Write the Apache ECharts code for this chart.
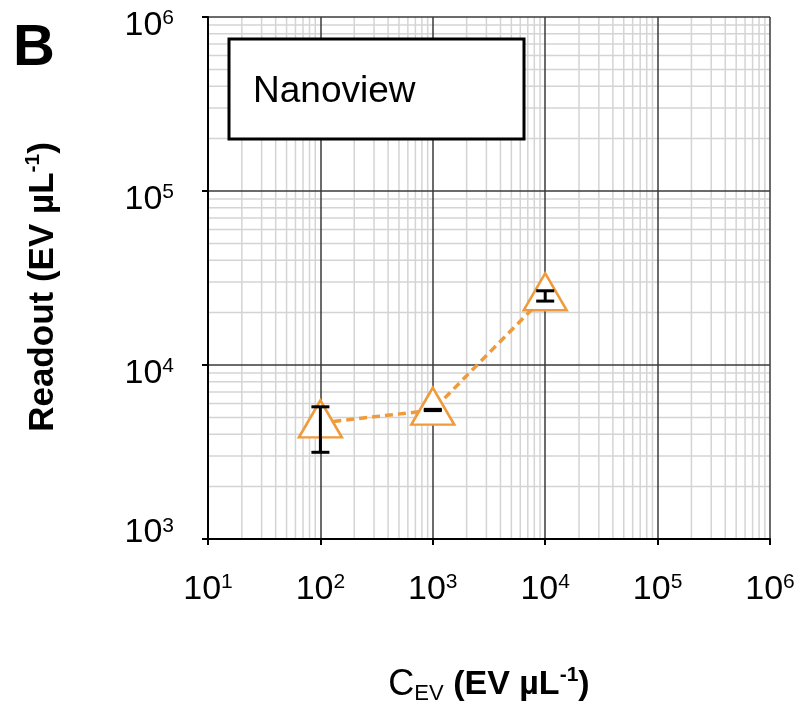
<!DOCTYPE html>
<html>
<head>
<meta charset="utf-8">
<script src="https://cdn.jsdelivr.net/npm/echarts@6/dist/echarts.min.js"></script>
<style>
  html, body { margin: 0; padding: 0; background: #fff; }
  #chart { width: 806px; height: 704px; }
</style>
</head>
<body>
<div id="chart"></div>
<script>
// concentration of EVs (x) and readout (y)
const cEV = [100, 1000, 10000]
const readout = [4650, 5500, 25000]
const errLow = [3150, 5470, 23300]
const errHigh = [5750, 5560, 26700]

const xMin = 10, xMax = 1e6
const yMin = 1e3, yMax = 1e6

const orange = '#EF9B3C'
const font = 'Liberation Sans, Arial, Helvetica, sans-serif'

// minor grid positions (2..9 within each decade)
const minorLines = []
for (let d = xMin; d < xMax; d *= 10) {
  for (let k = 2; k <= 9; k++) minorLines.push([d * k, yMin, 0])
}
for (let d = yMin; d < yMax; d *= 10) {
  for (let k = 2; k <= 9; k++) minorLines.push([xMin, d * k, 1])
}

const expOf = (v) => Math.round(Math.log10(v))
const xLabel = (v) => '{b|10}{s|' + expOf(v) + '}'
// lowest y label sits a bit higher than the others (tall empty spacer pushes it up)
const yLabel = (v) => expOf(v) === 3
  ? '{bt|10}{s|3}{sp| }'
  : '{b|10}{s|' + expOf(v) + '}'

const labelRich = {
  b: { fontFamily: font, fontSize: 34, color: '#000', lineHeight: 36 },
  bt: { fontFamily: font, fontSize: 34, color: '#000', lineHeight: 36, verticalAlign: 'top' },
  s: { fontFamily: font, fontSize: 21, color: '#000', verticalAlign: 'top', lineHeight: 21 },
  sp: { fontSize: 1, lineHeight: 64, width: 0 }
}

const chart = echarts.init(document.getElementById('chart'))

const option = {
  animation: false,
  backgroundColor: '#fff',
  grid: { left: 208, right: 36, top: 17, bottom: 165, outerBoundsMode: 'none' },
  xAxis: {
    type: 'log',
    logBase: 10,
    min: xMin,
    max: xMax,
    z: 3,
    name: '{c|C}{sub|EV}{t| (EV µL}{s|-1}{t|)}',
    nameLocation: 'middle',
    nameGap: 126,
    nameTextStyle: {
      rich: {
        c: { fontFamily: font, fontSize: 36, color: '#000', lineHeight: 40 },
        sub: { fontFamily: font, fontSize: 22, color: '#000', verticalAlign: 'bottom', lineHeight: 26 },
        t: { fontFamily: font, fontSize: 34, fontWeight: 'bold', color: '#000', lineHeight: 40 },
        s: { fontFamily: font, fontSize: 21, fontWeight: 'bold', color: '#000', verticalAlign: 'top', lineHeight: 22 }
      }
    },
    axisLine: { show: true, lineStyle: { color: '#000', width: 2 } },
    axisTick: { show: true, inside: false, length: 6, lineStyle: { color: '#000', width: 2 } },
    axisLabel: { margin: 33, formatter: xLabel, rich: labelRich },
    splitLine: { show: true, lineStyle: { color: '#3a3a3a', width: 1.5 } },
    minorTick: { show: false },
    minorSplitLine: { show: false }
  },
  yAxis: {
    type: 'log',
    logBase: 10,
    min: yMin,
    max: yMax,
    z: 3,
    name: '{t|Readout (EV µL}{s|-1}{t|)}',
    nameLocation: 'middle',
    nameRotate: 90,
    nameGap: 145,
    nameTextStyle: {
      padding: [0, 18, 0, 0],
      rich: {
        t: { fontFamily: font, fontSize: 35, fontWeight: 'bold', color: '#000', lineHeight: 40 },
        s: { fontFamily: font, fontSize: 21, fontWeight: 'bold', color: '#000', verticalAlign: 'top', lineHeight: 22 }
      }
    },
    axisLine: { show: true, lineStyle: { color: '#000', width: 2 } },
    axisTick: { show: true, inside: false, length: 6, lineStyle: { color: '#000', width: 2 } },
    axisLabel: { margin: 34, padding: [18, 0, 0, 0], formatter: yLabel, rich: labelRich },
    splitLine: { show: true, lineStyle: { color: '#3a3a3a', width: 1.5 } },
    minorTick: { show: false },
    minorSplitLine: { show: false }
  },
  series: [
    {
      // light minor grid, drawn under the major split lines
      type: 'custom',
      z: 1,
      silent: true,
      data: minorLines,
      renderItem: (params, api) => {
        const cs = params.coordSys
        const p = api.coord([api.value(0), api.value(1)])
        const vertical = api.value(2) === 0
        const shape = vertical
          ? { x1: p[0], y1: cs.y, x2: p[0], y2: cs.y + cs.height }
          : { x1: cs.x, y1: p[1], x2: cs.x + cs.width, y2: p[1] }
        return { type: 'line', shape: shape, style: { stroke: '#d4d4d4', lineWidth: 1.5 } }
      }
    },
    {
      name: 'Nanoview',
      type: 'line',
      z: 5,
      data: cEV.map((x, i) => [x, readout[i]]),
      symbol: 'triangle',
      symbolSize: [43, 37],
      symbolOffset: [0, -4],
      itemStyle: { color: '#fff', borderColor: orange, borderWidth: 2.5 },
      lineStyle: { color: orange, width: 3.5, type: [8, 5] }
    },
    {
      // error bars
      type: 'custom',
      z: 6,
      data: cEV.map((x, i) => [x, errLow[i], errHigh[i]]),
      encode: { x: 0, y: [1, 2] },
      renderItem: (params, api) => {
        const lo = api.coord([api.value(0), api.value(1)])
        const hi = api.coord([api.value(0), api.value(2)])
        const w = 9
        const st = { stroke: '#000', lineWidth: 3 }
        return {
          type: 'group',
          children: [
            { type: 'line', shape: { x1: lo[0], y1: lo[1], x2: hi[0], y2: hi[1] }, style: st },
            { type: 'line', shape: { x1: lo[0] - w, y1: lo[1], x2: lo[0] + w, y2: lo[1] }, style: st },
            { type: 'line', shape: { x1: hi[0] - w, y1: hi[1], x2: hi[0] + w, y2: hi[1] }, style: st }
          ]
        }
      }
    }
  ],
  graphic: [
    {
      type: 'text',
      left: 13,
      top: 20,
      z: 10,
      style: { text: 'B', font: 'bold 58px ' + font, fill: '#000' }
    },
    {
      type: 'rect',
      z: 10,
      shape: { x: 229, y: 39, width: 295, height: 100 },
      style: { fill: '#fff', stroke: '#000', lineWidth: 3 }
    },
    {
      type: 'text',
      z: 11,
      left: 253,
      top: 73,
      style: { text: 'Nanoview', font: '37px ' + font, fill: '#000' }
    }
  ]
}

chart.setOption(option)
</script>
</body>
</html>
